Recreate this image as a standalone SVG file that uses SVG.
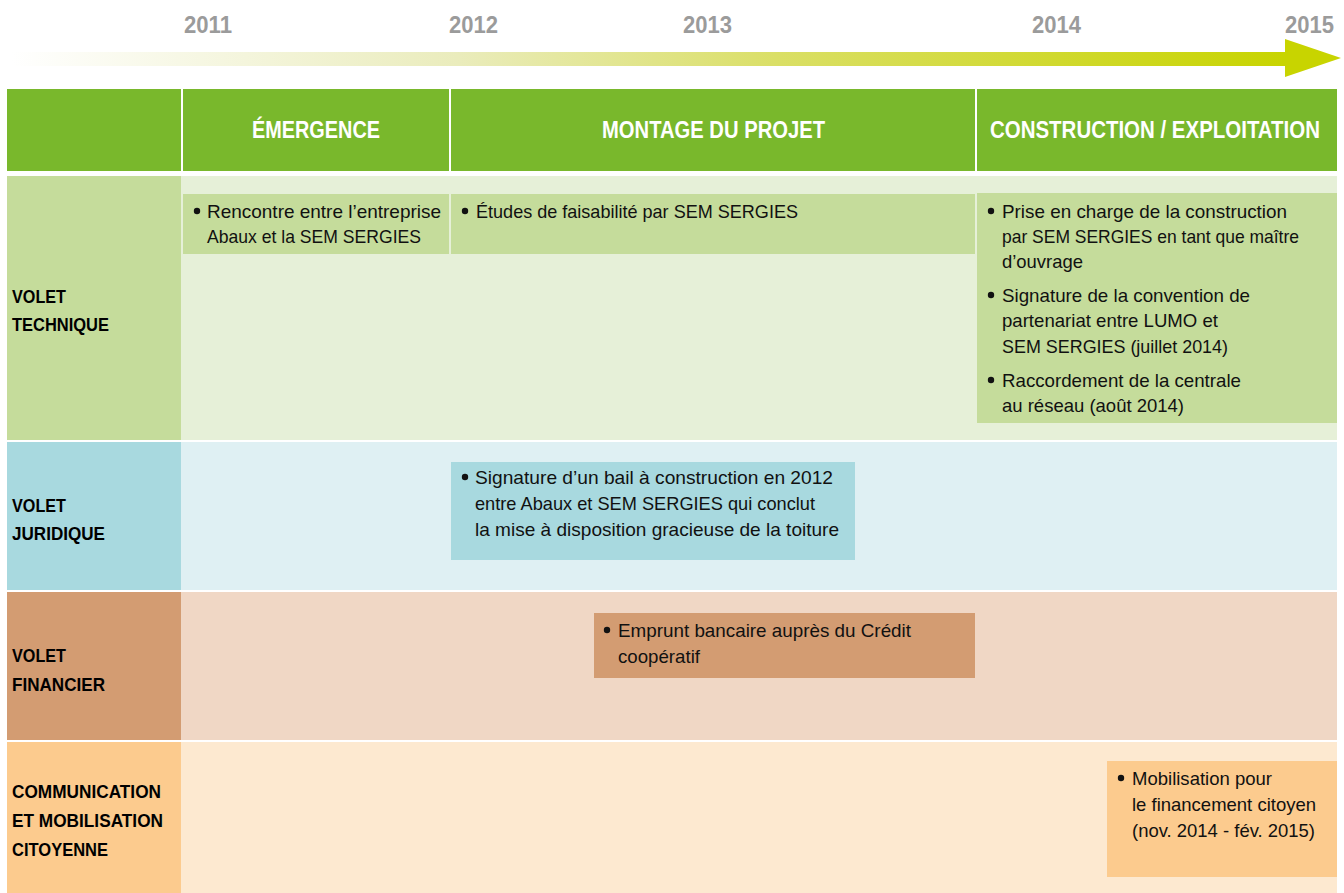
<svg xmlns="http://www.w3.org/2000/svg" width="1344" height="893" viewBox="0 0 1344 893">
<style>
text{font-family:"Liberation Sans",Arial,sans-serif}
.yr{font-size:24px;font-weight:bold;fill:#9b9b9b}
.hd{font-size:23px;font-weight:bold;fill:#ffffff}
.lb{font-size:18px;font-weight:bold;fill:#000000}
.tx{font-size:18.5px;fill:#111111}
.hdr{fill:#79b82c}
.tL{fill:#c5dc9b}.tB{fill:#e6f0d8}
.jL{fill:#a8d9df}.jB{fill:#dff0f3}
.fL{fill:#d39c72}.fB{fill:#f0d7c5}
.cL{fill:#fccb8e}.cB{fill:#fde9d0}
</style>
<defs>
<linearGradient id="tg" x1="0" y1="0" x2="1" y2="0">
<stop offset="0" stop-color="#ffffff"/>
<stop offset="0.35" stop-color="#eaecbc"/>
<stop offset="0.6" stop-color="#dadf66"/>
<stop offset="1" stop-color="#c8d400"/>
</linearGradient>
</defs>
<rect width="1344" height="893" fill="#ffffff"/>

<g id="years">
<text class="yr" x="184" y="33" textLength="48" lengthAdjust="spacingAndGlyphs">2011</text>
<text class="yr" x="449" y="33" textLength="49" lengthAdjust="spacingAndGlyphs">2012</text>
<text class="yr" x="683" y="33" textLength="49" lengthAdjust="spacingAndGlyphs">2013</text>
<text class="yr" x="1032" y="33" textLength="49" lengthAdjust="spacingAndGlyphs">2014</text>
<text class="yr" x="1285" y="33" textLength="49" lengthAdjust="spacingAndGlyphs">2015</text>
</g>

<g id="connectors">
<g id="timeline">
<rect x="12" y="52" width="1274" height="14" fill="url(#tg)"/>
<polygon points="1285,39 1341,58 1285,77" fill="#c8d400"/>
</g>
</g>

<g id="header">
<rect class="hdr" x="7" y="89" width="174" height="82"/>
<rect class="hdr" x="183" y="89" width="266" height="82"/>
<rect class="hdr" x="451" y="89" width="524" height="82"/>
<rect class="hdr" x="977" y="89" width="360" height="82"/>
<text class="hd" x="252" y="138" textLength="128" lengthAdjust="spacingAndGlyphs">ÉMERGENCE</text>
<text class="hd" x="602" y="138" textLength="223" lengthAdjust="spacingAndGlyphs">MONTAGE DU PROJET</text>
<text class="hd" x="990" y="138" textLength="330" lengthAdjust="spacingAndGlyphs">CONSTRUCTION / EXPLOITATION</text>
</g>

<g id="row-technique">
<rect class="tL" x="7" y="176" width="174" height="264"/>
<rect class="tB" x="181" y="176" width="1156" height="264"/>
<text class="lb" x="12" y="303" textLength="54" lengthAdjust="spacingAndGlyphs">VOLET</text>
<text class="lb" x="12" y="331" textLength="97" lengthAdjust="spacingAndGlyphs">TECHNIQUE</text>
</g>
<g id="row-juridique">
<rect class="jL" x="7" y="442" width="174" height="148"/>
<rect class="jB" x="181" y="442" width="1156" height="148"/>
<text class="lb" x="12" y="512" textLength="54" lengthAdjust="spacingAndGlyphs">VOLET</text>
<text class="lb" x="12" y="540" textLength="93" lengthAdjust="spacingAndGlyphs">JURIDIQUE</text>
</g>
<g id="row-financier">
<rect class="fL" x="7" y="592" width="174" height="148"/>
<rect class="fB" x="181" y="592" width="1156" height="148"/>
<text class="lb" x="12" y="662" textLength="54" lengthAdjust="spacingAndGlyphs">VOLET</text>
<text class="lb" x="12" y="691" textLength="93" lengthAdjust="spacingAndGlyphs">FINANCIER</text>
</g>
<g id="row-communication">
<rect class="cL" x="7" y="742" width="174" height="151"/>
<rect class="cB" x="181" y="742" width="1156" height="151"/>
<text class="lb" x="12" y="798" textLength="149" lengthAdjust="spacingAndGlyphs">COMMUNICATION</text>
<text class="lb" x="12" y="827" textLength="151" lengthAdjust="spacingAndGlyphs">ET MOBILISATION</text>
<text class="lb" x="12" y="856" textLength="96" lengthAdjust="spacingAndGlyphs">CITOYENNE</text>
</g>

<g id="box-rencontre">
<rect class="tL" x="183" y="194" width="266" height="60"/>
<circle cx="197" cy="211" r="3.2" fill="#111"/>
<text class="tx" x="207" y="218" textLength="234" lengthAdjust="spacingAndGlyphs">Rencontre entre l’entreprise</text>
<text class="tx" x="207" y="243" textLength="214" lengthAdjust="spacingAndGlyphs">Abaux et la SEM SERGIES</text>
</g>

<g id="box-etudes">
<rect class="tL" x="451" y="194" width="524" height="60"/>
<circle cx="465" cy="211" r="3.2" fill="#111"/>
<text class="tx" x="476" y="218" textLength="322" lengthAdjust="spacingAndGlyphs">Études de faisabilité par SEM SERGIES</text>
</g>

<g id="box-construction">
<rect class="tL" x="977" y="193" width="360" height="230"/>
<circle cx="991" cy="211" r="3.2" fill="#111"/>
<text class="tx" x="1002" y="218" textLength="285" lengthAdjust="spacingAndGlyphs">Prise en charge de la construction</text>
<text class="tx" x="1002" y="243" textLength="297" lengthAdjust="spacingAndGlyphs">par SEM SERGIES en tant que maître</text>
<text class="tx" x="1002" y="268" textLength="81" lengthAdjust="spacingAndGlyphs">d’ouvrage</text>
<circle cx="991" cy="295" r="3.2" fill="#111"/>
<text class="tx" x="1002" y="302" textLength="248" lengthAdjust="spacingAndGlyphs">Signature de la convention de</text>
<text class="tx" x="1002" y="327" textLength="216" lengthAdjust="spacingAndGlyphs">partenariat entre LUMO et</text>
<text class="tx" x="1002" y="353" textLength="226" lengthAdjust="spacingAndGlyphs">SEM SERGIES (juillet 2014)</text>
<circle cx="991" cy="380" r="3.2" fill="#111"/>
<text class="tx" x="1002" y="387" textLength="239" lengthAdjust="spacingAndGlyphs">Raccordement de la centrale</text>
<text class="tx" x="1002" y="412" textLength="182" lengthAdjust="spacingAndGlyphs">au réseau (août 2014)</text>
</g>

<g id="box-juridique">
<rect class="jL" x="451" y="462" width="404" height="98"/>
<circle cx="465" cy="477" r="3.2" fill="#111"/>
<text class="tx" x="475" y="484" textLength="358" lengthAdjust="spacingAndGlyphs">Signature d’un bail à construction en 2012</text>
<text class="tx" x="475" y="510" textLength="340" lengthAdjust="spacingAndGlyphs">entre Abaux et SEM SERGIES qui conclut</text>
<text class="tx" x="475" y="536" textLength="364" lengthAdjust="spacingAndGlyphs">la mise à disposition gracieuse de la toiture</text>
</g>

<g id="box-financier">
<rect class="fL" x="594" y="613" width="381" height="65"/>
<circle cx="607" cy="630" r="3.2" fill="#111"/>
<text class="tx" x="618" y="637" textLength="293" lengthAdjust="spacingAndGlyphs">Emprunt bancaire auprès du Crédit</text>
<text class="tx" x="618" y="663" textLength="82" lengthAdjust="spacingAndGlyphs">coopératif</text>
</g>

<g id="box-communication">
<rect class="cL" x="1107" y="761" width="230" height="116"/>
<circle cx="1121" cy="778" r="3.2" fill="#111"/>
<text class="tx" x="1132" y="785" textLength="140" lengthAdjust="spacingAndGlyphs">Mobilisation pour</text>
<text class="tx" x="1132" y="811" textLength="184" lengthAdjust="spacingAndGlyphs">le financement citoyen</text>
<text class="tx" x="1132" y="837" textLength="183" lengthAdjust="spacingAndGlyphs">(nov. 2014 - fév. 2015)</text>
</g>
</svg>
